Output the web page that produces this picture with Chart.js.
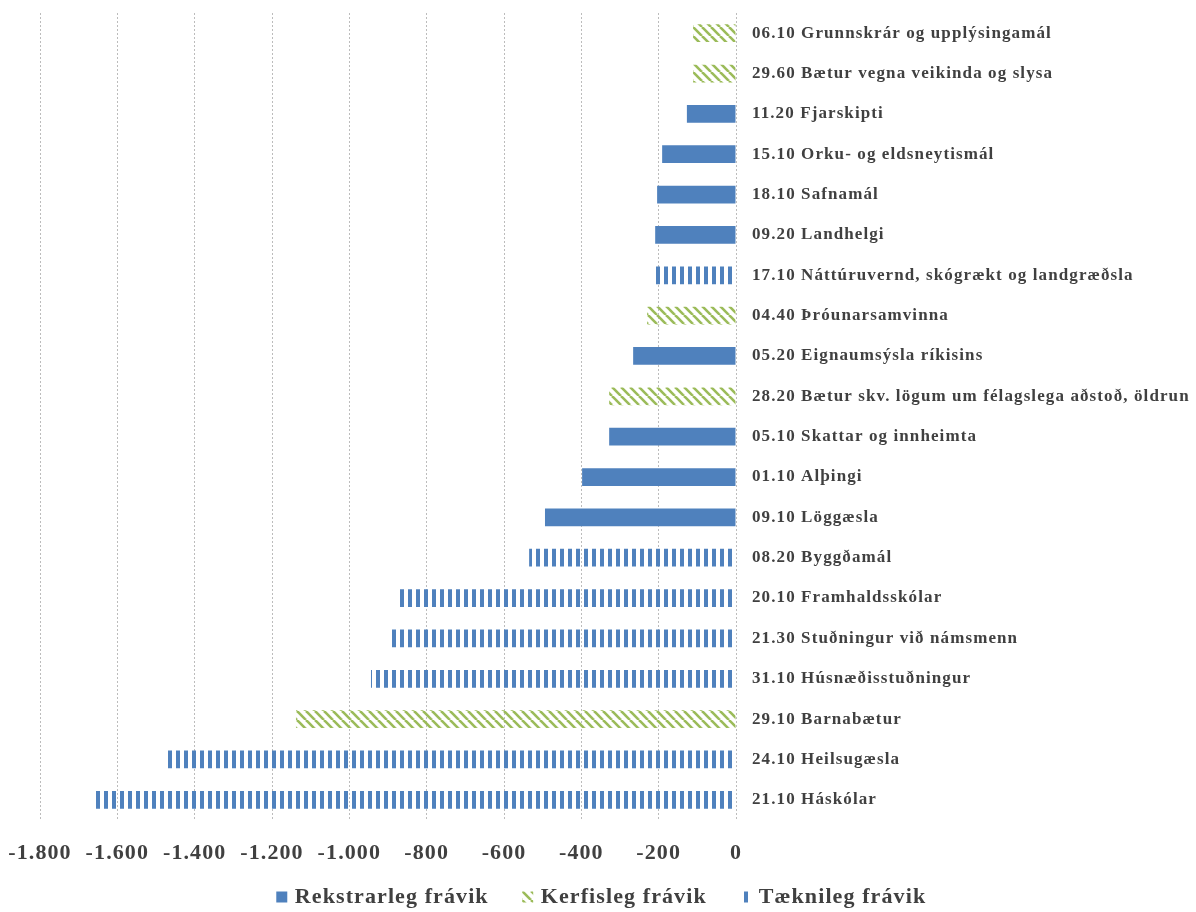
<!DOCTYPE html>
<html>
<head>
<meta charset="utf-8">
<script src="https://cdn.jsdelivr.net/npm/chart.js@4.4.1/dist/chart.umd.min.js"></script>
<style>
  html, body { margin: 0; padding: 0; background: #fff; }
  #wrap { width: 1196px; height: 912px; }
</style>
</head>
<body>
<div id="wrap"><canvas id="grafico" width="1196" height="912"></canvas></div>
<script>
const categorie = [
  "06.10 Grunnskrár og upplýsingamál",
  "29.60 Bætur vegna veikinda og slysa",
  "11.20 Fjarskipti",
  "15.10 Orku- og eldsneytismál",
  "18.10 Safnamál",
  "09.20 Landhelgi",
  "17.10 Náttúruvernd, skógrækt og landgræðsla",
  "04.40 Þróunarsamvinna",
  "05.20 Eignaumsýsla ríkisins",
  "28.20 Bætur skv. lögum um félagslega aðstoð, öldrun",
  "05.10 Skattar og innheimta",
  "01.10 Alþingi",
  "09.10 Löggæsla",
  "08.20 Byggðamál",
  "20.10 Framhaldsskólar",
  "21.30 Stuðningur við námsmenn",
  "31.10 Húsnæðisstuðningur",
  "29.10 Barnabætur",
  "24.10 Heilsugæsla",
  "21.10 Háskólar"
];

const rekstrarleg = [null, null, -127, -191, -204, -209, null, null, -266, null, -328, -398, -494, null, null, null, null, null, null, null];
const kerfisleg   = [-111, -111, null, null, null, null, null, -230, null, -328, null, null, null, null, null, null, null, -1138, null, null];
const taeknileg   = [null, null, null, null, null, null, -215, null, null, null, null, null, null, -535, -874, -892, -944, null, -1477, -1663];

const nomiSerie = ["Rekstrarleg frávik", "Kerfisleg frávik", "Tæknileg frávik"];
const tickX = [-1800, -1600, -1400, -1200, -1000, -800, -600, -400, -200, 0];

const blu = "#4f81bd";
const verde = "#9bbb59";
const testo = "#404040";
const font = "'Liberation Serif', 'Times New Roman', serif";
const spaziatura = "1.1px";

function formatta(v) {
  let s = Math.abs(v).toString();
  if (s.length > 3) s = s.slice(0, s.length - 3) + "." + s.slice(-3);
  return (v < 0 ? "-" : "") + s;
}

function strisceVerticali() {
  let c = document.createElement("canvas");
  c.width = 8; c.height = 8;
  let g = c.getContext("2d");
  g.fillStyle = blu;
  g.fillRect(0, 0, 4, 8);
  return g.createPattern(c, "repeat");
}

function tratteggio() {
  let c = document.createElement("canvas");
  let s = 9;
  c.width = s; c.height = s;
  let g = c.getContext("2d");
  g.strokeStyle = verde;
  g.lineWidth = 2.6;
  for (let k = -s; k <= s; k += s) {
    g.beginPath();
    g.moveTo(k, 0);
    g.lineTo(k + s, s);
    g.stroke();
  }
  return g.createPattern(c, "repeat");
}

// spaziatura del testo, altezza fissa della legenda e suo spostamento
const aggiustamenti = {
  id: "aggiustamenti",
  beforeUpdate: (chart) => {
    chart.ctx.letterSpacing = spaziatura;
    let lg = chart.legend;
    if (lg && !lg._fitOriginale) {
      lg._fitOriginale = lg.fit;
      lg.fit = function () {
        this._fitOriginale();
        this.height = 45;
      };
      lg._drawOriginale = lg.draw;
      lg.draw = function () {
        let t = this.top, l = this.left, r = this.right;
        this.top = t - 18;
        this.left = l - 15;
        this.right = r - 15;
        this._drawOriginale();
        this.top = t;
        this.left = l;
        this.right = r;
      };
    }
  },
  beforeDraw: (chart) => {
    chart.ctx.letterSpacing = spaziatura;
  }
};

let ctx = document.getElementById("grafico").getContext("2d");
new Chart(ctx, {
  type: "bar",
  data: {
    labels: categorie,
    datasets: [
      { label: nomiSerie[0], data: rekstrarleg, backgroundColor: blu },
      { label: nomiSerie[1], data: kerfisleg, backgroundColor: tratteggio() },
      { label: nomiSerie[2], data: taeknileg, backgroundColor: strisceVerticali() }
    ]
  },
  options: {
    indexAxis: "y",
    responsive: false,
    animation: false,
    devicePixelRatio: 1,
    layout: { padding: { top: 13, left: 40, right: 0, bottom: 0 } },
    datasets: { bar: { barPercentage: 0.44, categoryPercentage: 1, borderWidth: 0 } },
    scales: {
      x: {
        min: -1800,
        max: 0,
        afterBuildTicks: (scale) => { scale.ticks = tickX.map(v => ({ value: v })); },
        grid: { color: "#bcbcbc", lineWidth: 1, drawTicks: true, tickLength: 14, tickColor: "rgba(0,0,0,0)" },
        border: { display: false, dash: [2, 2] },
        ticks: {
          color: testo,
          padding: 6,
          font: { family: font, size: 22, weight: "bold" },
          callback: (v) => formatta(v)
        },
        afterFit: (scale) => { scale.height = 47; }
      },
      y: {
        position: "right",
        stacked: true,
        grid: { display: false, drawTicks: true, tickLength: 16 },
        border: { display: false },
        ticks: {
          color: testo,
          padding: 0,
          font: { family: font, size: 17, weight: "bold" }
        },
        afterFit: (scale) => { scale.width = 460; }
      }
    },
    plugins: {
      legend: {
        position: "bottom",
        labels: {
          color: testo,
          usePointStyle: true,
          pointStyle: "rect",
          boxWidth: 4,
          boxHeight: 11,
          padding: 37,
          font: { family: font, size: 22, weight: "bold" }
        }
      },
      tooltip: { enabled: false }
    }
  },
  plugins: [aggiustamenti]
});
</script>
</body>
</html>
